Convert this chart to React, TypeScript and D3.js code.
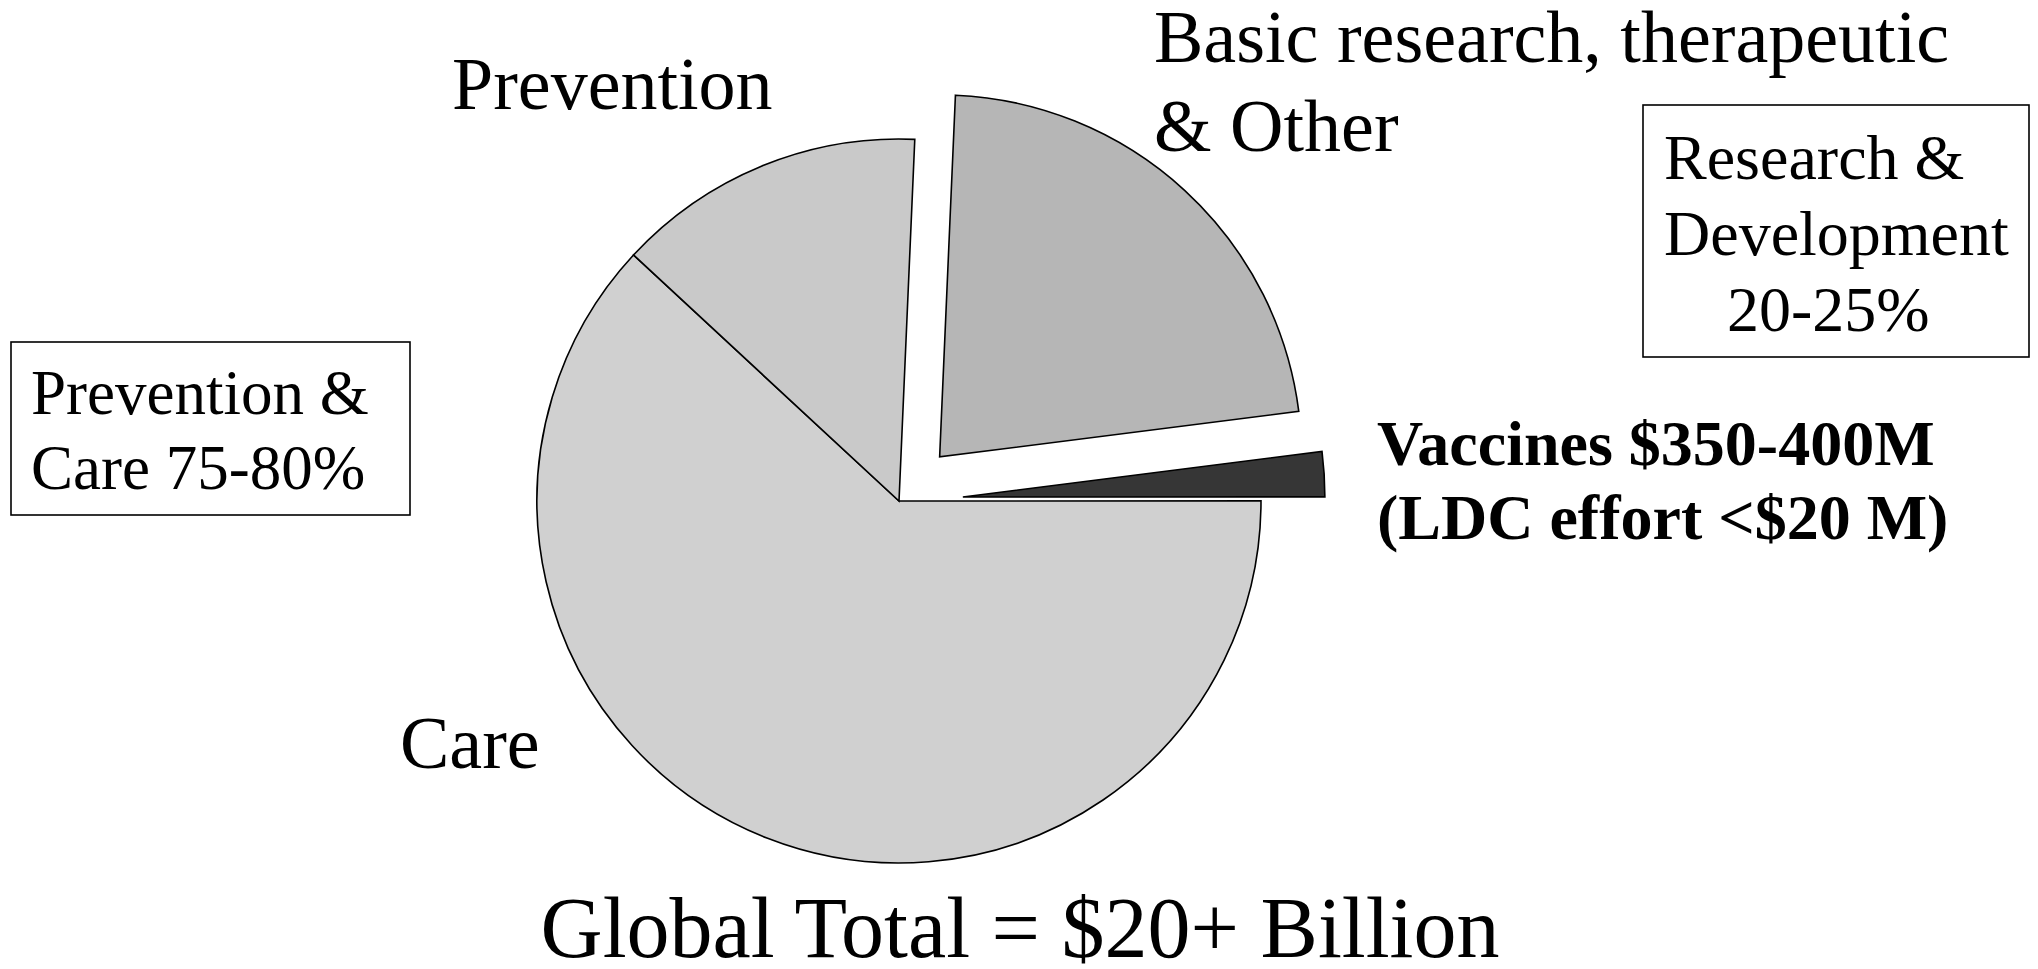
import * as React from 'react';
import * as d3 from 'd3';

// slices, clockwise from just past 12 o'clock
const sliceNames = ['Basic research', 'Vaccines', 'Care', 'Prevention'];
const sliceValues = [22.3, 2.0, 61.9, 13.8];
const sliceColors = ['#b6b6b6', '#363636', '#d0d0d0', '#c9c9c9'];
const sliceExplode = [60, 64, 0, 0];

const basicLines = ['Basic research, therapeutic', '& Other'];
const vaccineLines = ['Vaccines $350-400M', '(LDC effort <$20 M)'];
const leftBoxLines = ['Prevention &', 'Care 75-80%'];
const rightBoxLines = ['Research &', 'Development', '20-25%'];
const rightBoxIndent = [0, 0, 63];
const title = 'Global Total = $20+ Billion';

const W = 2038;
const H = 969;
const cx = 899;
const cy = 501;
const r = 362;
const font = "'Liberation Serif', Tinos, 'Times New Roman', serif";
const txt = { fontFamily: font };

export default function App() {
    const rad = d3.scaleLinear().domain([0, 360]).range([0, 2 * Math.PI]);

    const pie = d3.pie<number>()
        .sort(null)
        .value(d => d)
        .startAngle(rad(2.5))
        .endAngle(rad(362.5));
    const arcs = pie(sliceValues);
    const arc = d3.arc<d3.PieArcDatum<number>>().innerRadius(0).outerRadius(r);

    return (
        <svg width={W} height={H} style={{ position: 'absolute', left: 0, top: 0, background: '#fff' }}>
            <g transform={`translate(${cx},${cy})`}>
                {arcs.map((a, i) => {
                    const mid = (a.startAngle + a.endAngle) / 2;
                    const dx = Math.sin(mid) * sliceExplode[i];
                    const dy = -Math.cos(mid) * sliceExplode[i];
                    return (
                        <path key={sliceNames[i]} d={arc(a) ?? ''}
                            transform={`translate(${dx},${dy})`}
                            fill={sliceColors[i]} stroke="#000" strokeWidth={1.6}
                            strokeLinejoin="miter" />
                    );
                })}
            </g>

            {basicLines.map((t, i) => (
                <text key={t} x={1154} y={62 + i * 89} fontSize={74} style={txt}>{t}</text>
            ))}
            <text x={452} y={109} fontSize={74} style={txt}>Prevention</text>
            <text x={400} y={768} fontSize={74} style={txt}>Care</text>

            {vaccineLines.map((t, i) => (
                <text key={t} x={1377} y={465 + i * 74} fontSize={64} fontWeight="bold" style={txt}>{t}</text>
            ))}

            <rect x={11} y={342} width={399} height={173} fill="none" stroke="#000" strokeWidth={1.6} />
            {leftBoxLines.map((t, i) => (
                <text key={t} x={31} y={414 + i * 75} fontSize={63} style={txt}>{t}</text>
            ))}

            <rect x={1643} y={105} width={386} height={252} fill="none" stroke="#000" strokeWidth={1.6} />
            {rightBoxLines.map((t, i) => (
                <text key={t} x={1664 + rightBoxIndent[i]} y={179 + i * 76} fontSize={64} style={txt}>{t}</text>
            ))}

            <text x={1020} y={957} fontSize={86} textAnchor="middle" style={txt}>{title}</text>
        </svg>
    );
}
